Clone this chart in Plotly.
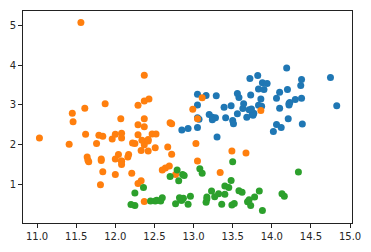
import plotly.graph_objects as go

# class 0 (blue)
alc0 = [14.23,13.2,13.16,14.37,13.24,14.2,14.39,14.06,14.83,13.86,14.1,14.12,13.75,14.75,14.38,13.63,14.3,13.83,14.19,13.64,
        14.06,12.93,13.71,12.85,13.5,13.05,13.39,13.3,13.87,14.02,13.73,13.58,13.68,13.76,13.51,13.48,13.28,13.05,13.07,14.22,
        13.56,13.41,13.88,13.24,13.05,14.21,14.38,13.9,14.1,13.94,13.05,13.83,13.82,13.77,13.74,13.56,14.22,13.29,13.72]
flv0 = [3.06,2.76,3.24,3.49,2.69,3.39,2.52,2.51,2.98,3.15,3.32,2.43,2.76,3.69,3.64,2.91,3.14,3.4,3.93,3.03,
        3.17,2.41,2.88,2.37,2.61,2.68,2.94,2.19,2.97,2.33,3.25,3.19,2.69,2.74,2.53,2.98,2.68,2.43,2.64,3.04,
        3.29,2.68,3.56,2.63,3.0,2.65,3.17,3.39,2.92,3.54,3.27,2.99,3.74,2.79,2.9,2.78,3.0,3.23,3.67]

# class 1 (orange)
alc1 = [12.37,12.33,12.64,13.67,12.37,12.17,12.37,13.11,12.37,13.34,12.21,12.29,13.86,13.49,12.99,11.96,11.66,13.03,11.84,12.33,
        12.7,12.0,12.72,12.08,13.05,11.84,12.67,12.16,11.65,11.64,12.08,12.08,12.0,12.69,12.29,11.62,12.47,11.81,12.29,12.37,
        12.29,12.08,12.6,12.34,11.82,12.51,12.42,12.25,12.72,12.22,11.61,11.46,12.52,11.76,11.41,12.08,11.03,11.82,12.42,12.77,
        12.0,11.45,11.56,12.42,13.05,11.87,12.07,12.43,11.79,12.37,12.04]
flv1 = [0.57,1.09,1.41,1.79,3.1,1.75,2.65,3.18,2.0,1.3,1.28,1.02,2.86,1.84,2.89,2.14,1.57,2.03,1.32,1.85,
        2.55,2.26,2.53,1.58,1.59,2.21,1.94,1.69,1.61,1.69,1.59,1.5,1.25,1.46,2.25,2.26,2.27,0.99,2.5,3.75,
        2.99,2.17,1.36,2.11,1.64,1.92,1.84,2.03,1.76,2.04,2.92,2.58,2.27,2.03,2.01,2.29,2.17,1.6,2.09,1.25,
        1.64,2.79,5.08,2.13,2.65,3.03,2.65,3.15,2.24,2.45,1.75]

# class 2 (green)
alc2 = [12.86,12.88,12.81,12.7,12.51,12.6,12.25,12.53,13.49,12.84,12.93,13.36,13.52,13.62,12.25,13.16,13.88,12.87,13.32,13.08,
        13.5,12.79,13.11,13.23,12.58,13.17,13.84,12.45,14.34,13.48,12.36,13.69,12.85,12.96,13.78,13.73,13.45,12.82,13.58,13.4,
        12.2,12.77,14.16,13.71,13.4,13.27,13.17,14.13]
flv2 = [1.25,1.22,1.09,1.2,0.58,0.66,0.47,0.6,0.48,0.6,0.5,0.5,0.52,0.8,0.78,0.55,0.34,0.65,0.76,1.39,
        1.57,1.36,1.28,0.83,0.58,0.63,0.83,0.58,1.31,1.1,0.92,0.56,0.6,0.7,0.68,0.47,0.92,0.66,0.84,0.96,
        0.49,0.51,0.7,0.61,0.75,0.69,0.68,0.76]

x_ticks = [11.0, 11.5, 12.0, 12.5, 13.0, 13.5, 14.0, 14.5, 15.0]
y_ticks = [1, 2, 3, 4, 5]
x_range = [10.82, 15.025]
y_range = [0.026, 5.368]
colors = ["#1f77b4", "#ff7f0e", "#2ca02c"]

fig = go.Figure()
for xs, ys, c in [(alc0, flv0, colors[0]), (alc1, flv1, colors[1]), (alc2, flv2, colors[2])]:
    fig.add_trace(go.Scatter(x=xs, y=ys, mode="markers",
                             marker=dict(color=c, size=7, line=dict(width=0)),
                             showlegend=False, hoverinfo="skip"))

axis_common = dict(showline=True, linecolor="#222222", linewidth=1, mirror=True,
                   ticks="outside", ticklen=4, tickwidth=1, tickcolor="#222222",
                   showgrid=False, zeroline=False,
                   tickfont=dict(family="DejaVu Sans", size=10, color="#262626"))

fig.update_xaxes(range=x_range, tickvals=x_ticks,
                 ticktext=[f"{v:.1f}" for v in x_ticks], **axis_common)
fig.update_yaxes(range=y_range, tickvals=y_ticks,
                 ticktext=[str(v) for v in y_ticks], **axis_common)

fig.update_layout(width=371, height=252, margin=dict(l=21, r=16, t=10, b=24),
                  plot_bgcolor="white", paper_bgcolor="white")

fig.write_html("out.html")
